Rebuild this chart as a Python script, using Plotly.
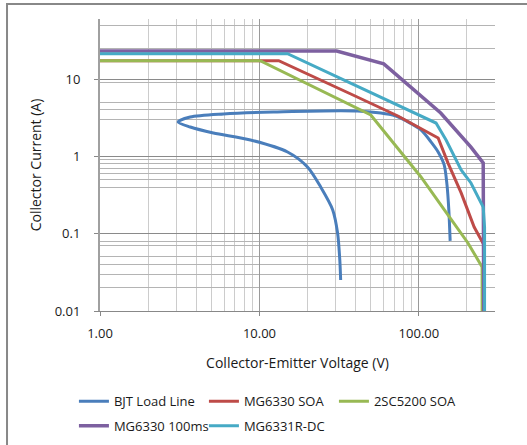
import plotly.graph_objects as go

# ---- data ----
bjt_v = [32.3, 31.9, 30.9, 28.8, 24.2, 20.0, 15.0, 8.78, 5.14, 3.68, 3.09, 3.68, 5.94, 12.2, 41.3, 71.7, 85.3, 103, 119, 132, 144, 150, 154, 157]
bjt_i = [0.0252, 0.0457, 0.102, 0.203, 0.402, 0.729, 1.14, 1.63, 2.01, 2.40, 2.79, 3.23, 3.54, 3.75, 3.86, 3.33, 2.79, 2.20, 1.54, 1.14, 0.775, 0.427, 0.203, 0.0806]

mg6330_v = [1, 13.2, 37.4, 73.8, 132, 152, 184, 222, 256]
mg6330_i = [17.3, 17.3, 6.41, 3.33, 1.73, 0.823, 0.337, 0.122, 0.0715]

c5200_v = [1, 10.1, 49.9, 66.7, 103, 152, 203, 249, 249]
c5200_i = [17.3, 17.3, 3.43, 1.63, 0.542, 0.175, 0.0759, 0.0371, 0.01]

mg100_v = [1, 30.5, 60.2, 137, 212, 253, 255]
mg100_i = [23.1, 23.1, 15.7, 3.64, 1.32, 0.823, 0.01]

mg6331_v = [1, 15.0, 128, 148, 184, 212, 253, 258, 258]
mg6331_i = [21.3, 21.3, 2.70, 1.63, 0.667, 0.453, 0.221, 0.122, 0.01]

x_tickvals = [1, 10, 100]
x_ticktext = ["1.00", "10.00", "100.00"]
y_tickvals = [0.01, 0.1, 1, 10]
y_ticktext = ["0.01", "0.1", "1", "10"]
x_minor = [2, 3, 4, 5, 6, 7, 8, 9, 20, 30, 40, 50, 60, 70, 80, 90, 200, 300]
y_minor = [0.02, 0.03, 0.04, 0.05, 0.07, 0.08, 0.4, 0.5, 0.6, 0.7, 0.8, 0.9, 3, 4, 5, 9, 25, 50]

series = [
    ("BJT Load Line", bjt_v, bjt_i, "#4A7EBB", 3, "spline", "legend"),
    ("MG6330 SOA", mg6330_v, mg6330_i, "#BE4B48", 3, "linear", "legend"),
    ("2SC5200 SOA", c5200_v, c5200_i, "#98B954", 3, "linear", "legend"),
    ("MG6330 100ms", mg100_v, mg100_i, "#7D60A0", 3.5, "linear", "legend2"),
    ("MG6331R-DC", mg6331_v, mg6331_i, "#46AAC5", 3, "linear", "legend2"),
]

FONT = "Open Sans"
TXT = "#1a1a1a"

fig = go.Figure()
for name, xs, ys, col, w, shp, lg in series:
    fig.add_trace(go.Scatter(x=xs, y=ys, name=name, mode="lines", legend=lg,
                             line=dict(color=col, width=w, shape=shp,
                                       smoothing=0.8 if shp == "spline" else None)))

legend_common = dict(orientation="h", xanchor="left", yanchor="top",
                     entrywidth=85, entrywidthmode="pixels",
                     font=dict(family=FONT, size=13, color=TXT),
                     itemwidth=30, bgcolor="rgba(0,0,0,0)")

fig.update_layout(
    width=527, height=445,
    margin=dict(l=100, r=32, t=19, b=134, autoexpand=False),
    paper_bgcolor="white", plot_bgcolor="white",
    font=dict(family=FONT, size=13, color=TXT),
    showlegend=True,
    legend=dict(x=-0.066, y=-0.258, **legend_common),
    legend2=dict(x=-0.066, y=-0.342, **legend_common),
    shapes=[dict(type="rect", xref="paper", yref="paper",
                 x0=-0.2354, x1=1.3, y0=-0.7, y1=1.0514,
                 line=dict(color="#888888", width=2), fillcolor="rgba(0,0,0,0)")],
)

fig.update_xaxes(
    type="log", range=[0, 2.4771],
    tickmode="array", tickvals=x_tickvals, ticktext=x_ticktext,
    ticks="outside", ticklen=4, tickcolor="#888888", ticklabelstandoff=6,
    showline=True, linecolor="#888888", linewidth=1,
    showgrid=True, gridcolor="#9a9a9a", gridwidth=1,
    minor=dict(tickmode="array", tickvals=x_minor, showgrid=True,
               gridcolor="#cccccc", gridwidth=1, ticks=""),
    zeroline=False,
    title=dict(text="Collector-Emitter Voltage (V)", font=dict(size=14), standoff=17),
    tickfont=dict(size=13),
)
fig.update_yaxes(
    type="log", range=[-2, 1.777],
    tickmode="array", tickvals=y_tickvals, ticktext=y_ticktext,
    ticks="outside", ticklen=4, tickcolor="#888888", ticklabelstandoff=11,
    showline=True, linecolor="#a0a0a0", linewidth=2,
    showgrid=True, gridcolor="#8a8a8a", gridwidth=1,
    minor=dict(tickmode="array", tickvals=y_minor, showgrid=True,
               gridcolor="#b4b4b4", gridwidth=1, ticks=""),
    zeroline=False,
    title=dict(text="Collector Current (A)", font=dict(size=14), standoff=10),
    tickfont=dict(size=13),
)

fig.write_html("out.html", config={"displayModeBar": False},
               post_script="document.body.style.margin='0';")
